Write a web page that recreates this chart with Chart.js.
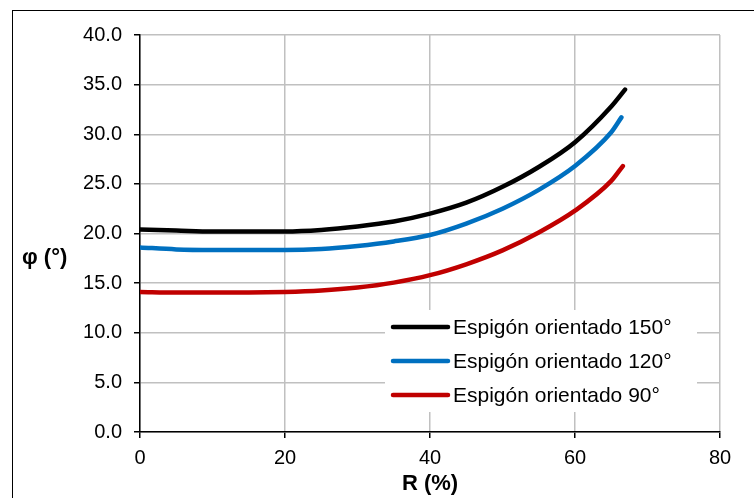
<!DOCTYPE html>
<html>
<head>
<meta charset="utf-8">
<script src="https://cdn.jsdelivr.net/npm/chart.js@4"></script>
<style>
  html, body { margin: 0; padding: 0; background: #fff; overflow: hidden; }
  #frame { position: absolute; left: 12px; top: 10px; width: 800px; height: 600px; border: 1.5px solid #000; }
  #wrap { position: absolute; left: 0; top: 0; width: 754px; height: 498px; }
</style>
</head>
<body>
<div id="frame"></div>
<div id="wrap"><canvas id="phiChart" width="754" height="498"></canvas></div>
<script>
// R (%) sample points
let r150 = [0, 5, 10, 15, 20, 25, 30, 35, 40, 45, 50, 55, 60, 65, 66.9];
let phi150 = [20.4, 20.3, 20.2, 20.2, 20.2, 20.35, 20.7, 21.2, 22.0, 23.1, 24.7, 26.7, 29.2, 32.8, 34.5];

let r120 = [0, 5, 10, 15, 20, 25, 30, 35, 40, 45, 50, 55, 60, 65, 66.4];
let phi120 = [18.6, 18.4, 18.35, 18.35, 18.35, 18.45, 18.75, 19.2, 19.85, 21.0, 22.5, 24.4, 26.8, 30.2, 31.7];

let r90 = [0, 5, 10, 15, 20, 25, 30, 35, 40, 45, 50, 55, 60, 65, 66.6];
let phi90 = [14.1, 14.05, 14.05, 14.05, 14.1, 14.25, 14.55, 15.05, 15.8, 16.9, 18.3, 20.1, 22.3, 25.3, 26.8];

let seriesLabels = ["Espigón orientado 150°", "Espigón orientado 120°", "Espigón orientado 90°"];
let xTitle = "R (%)";
let yTitle = "φ (°)";

function toPoints(xs, ys) {
  return xs.map((x, i) => ({ x: x, y: ys[i] }));
}

// y axis title is horizontal in the original, so draw it by hand
const yTitlePlugin = {
  id: "yTitle",
  afterDraw(chart) {
    let c = chart.ctx;
    c.save();
    c.font = "bold 22px 'Liberation Sans', Arial, sans-serif";
    c.fillStyle = "#000";
    c.textAlign = "left";
    c.textBaseline = "middle";
    c.fillText(yTitle, 22, 258);
    c.restore();
  }
};

// legend box inside the plot, bottom right
const boxLegend = {
  id: "boxLegend",
  afterDatasetsDraw(chart) {
    let c = chart.ctx;
    let a = chart.chartArea;
    let right = a.right - 23, bottom = a.bottom - 20;
    let left = right - 312, top = bottom - 102;
    c.save();
    c.fillStyle = "#fff";
    c.fillRect(left, top, right - left, bottom - top);
    c.font = "21px 'Liberation Sans', Arial, sans-serif";
    c.textBaseline = "middle";
    c.textAlign = "left";
    chart.data.datasets.forEach((ds, i) => {
      let y = top + 17 + i * 34;
      c.strokeStyle = ds.borderColor;
      c.lineWidth = 4.5;
      c.lineCap = "round";
      c.beginPath();
      c.moveTo(left + 8, y);
      c.lineTo(left + 63, y);
      c.stroke();
      c.fillStyle = "#000";
      c.fillText(ds.label, left + 68, y + 1);
    });
    c.restore();
  }
};

let ctx = document.getElementById("phiChart").getContext("2d");

let chart = new Chart(ctx, {
  type: "line",
  data: {
    datasets: [
      { label: seriesLabels[0], data: toPoints(r150, phi150), borderColor: "#000000" },
      { label: seriesLabels[1], data: toPoints(r120, phi120), borderColor: "#0070C0" },
      { label: seriesLabels[2], data: toPoints(r90, phi90), borderColor: "#C00000" }
    ]
  },
  options: {
    responsive: false,
    animation: false,
    layout: { padding: { left: 0, top: 35, right: 34, bottom: 0 } },
    elements: {
      line: { borderWidth: 4.5, cubicInterpolationMode: "monotone", borderCapStyle: "round", fill: false },
      point: { radius: 0 }
    },
    plugins: {
      legend: { display: false },
      tooltip: { enabled: false }
    },
    scales: {
      x: {
        type: "linear",
        min: 0, max: 80,
        afterFit: (s) => { s.height = 66; },
        ticks: { stepSize: 20, color: "#000", padding: 8, maxRotation: 0,
                 font: { family: "'Liberation Sans', Arial, sans-serif", size: 20 } },
        grid: { color: "#c0c0c0", lineWidth: 1.5, tickColor: "#000", tickLength: 6 },
        border: { color: "#000", width: 1.5 },
        title: { display: true, text: xTitle, color: "#000", padding: { top: 0, bottom: 1 },
                 font: { family: "'Liberation Sans', Arial, sans-serif", size: 22, weight: "bold" } }
      },
      y: {
        min: 0, max: 40,
        afterFit: (s) => { s.width = 140; },
        ticks: { stepSize: 5, color: "#000", padding: 12,
                 callback: (v) => v.toFixed(1),
                 font: { family: "'Liberation Sans', Arial, sans-serif", size: 20 } },
        grid: { color: "#c0c0c0", lineWidth: 1.5, tickColor: "#000", tickLength: 6 },
        border: { color: "#000", width: 1.5 }
      }
    }
  },
  plugins: [yTitlePlugin, boxLegend]
});
</script>
</body>
</html>
